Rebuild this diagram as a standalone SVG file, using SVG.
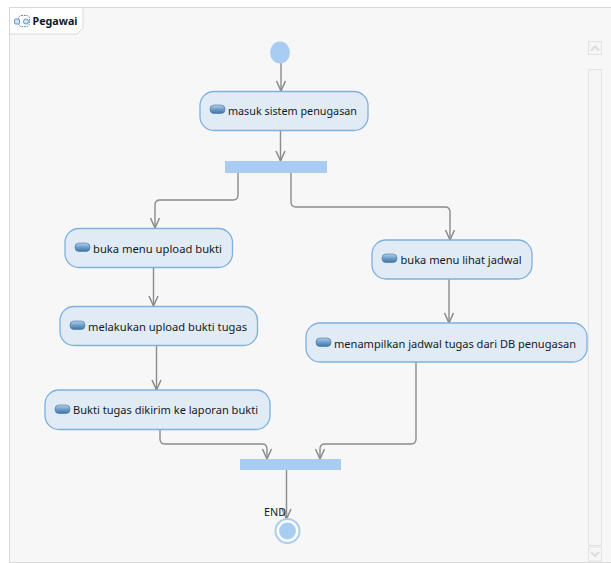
<svg xmlns="http://www.w3.org/2000/svg" width="611" height="563" viewBox="0 0 611 563">
<defs>
<linearGradient id="pill" x1="0" y1="0" x2="0" y2="1"><stop offset="0" stop-color="#b5d0e8"/><stop offset="0.5" stop-color="#6f9fc8"/><stop offset="1" stop-color="#3f74a6"/></linearGradient>
<marker id="arr" markerUnits="userSpaceOnUse" markerWidth="14" markerHeight="14" refX="12" refY="7" orient="auto" viewBox="0 0 14 14"><path d="M2 2.500 L12 7 L2 11.500" fill="none" stroke="#8a8a8a" stroke-width="1.500"/></marker>
</defs>
<style>
.act{fill:#e1ebf6;stroke:#7fb0e0;stroke-width:1.300}
.pill{fill:url(#pill);stroke:#3f74a6;stroke-width:.6}
.bar{fill:#a9cdf2}
.c{fill:none;stroke:#8c8c8c;stroke-width:1.400;marker-end:url(#arr)}
text{font-family:"Noto Sans","DejaVu Sans",sans-serif;font-size:11.500px;fill:#111a22}
.sb{fill:#f6f6f6;stroke:#e2e2e2;stroke-width:1}
</style>
<rect width="611" height="563" fill="#fff"/>
<rect x="9.500" y="7.500" width="602" height="555" fill="#f7f7f7" stroke="#d8d8d8"/>
<path d="M9.500 7.500H83V28L77 34H9.500Z" fill="#fff" stroke="#d8d8d8"/>
<g id="tab">
<rect x="18.500" y="15.500" width="11" height="11" rx="3" fill="none" stroke="#4b83c4" stroke-dasharray="1.500 1"/>
<rect x="14.500" y="19" width="5" height="5" rx="1" fill="#cfe0f2" stroke="#4b83c4" stroke-width=".8"/>
<circle cx="26" cy="21.500" r="2.600" fill="#cfe0f2" stroke="#4b83c4" stroke-width=".8"/>
<text x="32.500" y="25" textLength="45" lengthAdjust="spacingAndGlyphs" style="font-size:11px;font-weight:700">Pegawai</text>
</g>
<g id="scrollbar">
<rect class="sb" x="588.500" y="41.500" width="13" height="13"/>
<path d="M591 50.500L595 46.500L599 50.500" fill="none" stroke="#dcdcdc" stroke-width="2"/>
<rect class="sb" x="588.500" y="69.500" width="13" height="476"/>
<rect class="sb" x="588.500" y="547" width="13" height="14"/>
<path d="M591 552L595 556L599 552" fill="none" stroke="#dcdcdc" stroke-width="2"/>
</g>
<g id="connectors">
<path class="c" d="M281 63V91"/>
<path class="c" d="M280.500 130V161"/>
<path class="c" d="M238 173V195Q238 200 233 200H160Q155 200 155 205V228"/>
<path class="c" d="M291 173V202Q291 207 296 207H445Q450 207 450 212V240"/>
<path class="c" d="M153.500 268V306"/>
<path class="c" d="M449 279V323"/>
<path class="c" d="M156.500 346V390"/>
<path class="c" d="M160 430V439Q160 444 165 444H262Q267 444 267 449V459"/>
<path class="c" d="M416 362V439Q416 444 411 444H325Q320 444 320 449V459"/>
<path class="c" d="M286.500 470V519"/>
</g>
<g id="start"><ellipse cx="280" cy="52.500" rx="10" ry="11" fill="#a9cdf2"/></g>
<g id="masuk"><rect class="act" x="200" y="91.500" width="168" height="39" rx="14"/><rect class="pill" x="210" y="105" width="15" height="8.500" rx="4"/><text x="228" y="114.500" textLength="129" lengthAdjust="spacingAndGlyphs">masuk sistem penugasan</text></g>
<g id="fork"><rect class="bar" x="225" y="161" width="102" height="12"/></g>
<g id="buka-upload"><rect class="act" x="65" y="228.500" width="167.500" height="39" rx="14"/><rect class="pill" x="75" y="243" width="15" height="8.500" rx="4"/><text x="93" y="252.500" textLength="129" lengthAdjust="spacingAndGlyphs">buka menu upload bukti</text></g>
<g id="upload"><rect class="act" x="60" y="306.500" width="197.500" height="39" rx="14"/><rect class="pill" x="70" y="321" width="15" height="8.500" rx="4"/><text x="88" y="330.500" textLength="159" lengthAdjust="spacingAndGlyphs">melakukan upload bukti tugas</text></g>
<g id="kirim"><rect class="act" x="45" y="390" width="225" height="39.500" rx="14"/><rect class="pill" x="55" y="405" width="15" height="8.500" rx="4"/><text x="73" y="414" textLength="185" lengthAdjust="spacingAndGlyphs">Bukti tugas dikirim ke laporan bukti</text></g>
<g id="buka-jadwal"><rect class="act" x="372" y="240" width="160" height="39" rx="14"/><rect class="pill" x="382" y="254" width="15" height="8.500" rx="4"/><text x="400.500" y="263.500" textLength="121" lengthAdjust="spacingAndGlyphs">buka menu lihat jadwal</text></g>
<g id="tampil"><rect class="act" x="306" y="323" width="281" height="39" rx="14"/><rect class="pill" x="316" y="338" width="15" height="8.500" rx="4"/><text x="334" y="347.500" textLength="242" lengthAdjust="spacingAndGlyphs">menampilkan jadwal tugas dari DB penugasan</text></g>
<g id="join"><rect class="bar" x="240" y="459" width="101" height="11"/></g>
<g id="end"><circle cx="287.500" cy="531" r="12" fill="#fff" stroke="#a9cdf2" stroke-width="2"/><circle cx="287.500" cy="531" r="8.500" fill="#a9cdf2"/><text x="264" y="515.500" textLength="22" lengthAdjust="spacingAndGlyphs">END</text></g>
</svg>
